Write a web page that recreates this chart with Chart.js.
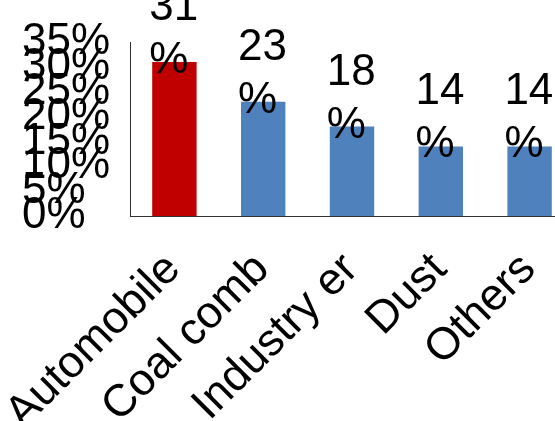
<!DOCTYPE html>
<html>
<head>
<meta charset="utf-8">
<script src="https://cdn.jsdelivr.net/npm/chart.js@4/dist/chart.umd.min.js"></script>
<style>
  html, body { margin: 0; padding: 0; background: #fff; overflow: hidden; }
  #wrap { position: relative; width: 574px; height: 421px; }
</style>
</head>
<body>
<div id="wrap"><canvas id="c"></canvas></div>
<script>
// Source categories and their shares (%)
const categories = ['Automobile', 'Coal comb', 'Industry er', 'Dust', 'Others'];
const shares = [31, 23, 18, 14, 14];
const barColors = ['#C00000', '#4F81BD', '#4F81BD', '#4F81BD', '#4F81BD'];
const yTicks = { min: 0, max: 35, step: 5 };

const FONT = '"Liberation Sans", Arial, sans-serif';

// Two-line value labels ("23" over "%") anchored at each bar's top-left
const valueLabels = {
  id: 'valueLabels',
  afterDatasetsDraw(chart) {
    const ctx = chart.ctx;
    const meta = chart.getDatasetMeta(0);
    ctx.save();
    ctx.font = '44px ' + FONT;
    ctx.fillStyle = '#000';
    ctx.textAlign = 'left';
    ctx.textBaseline = 'alphabetic';
    meta.data.forEach((bar, i) => {
      const left = bar.x - bar.width / 2 - 3;
      const pctBase = bar.y + 11;
      ctx.fillText(String(shares[i]), left, pctBase - 53);
      ctx.fillText('%', left, pctBase);
    });
    ctx.restore();
  }
};

new Chart(document.getElementById('c'), {
  type: 'bar',
  data: {
    labels: categories,
    datasets: [{
      data: shares,
      backgroundColor: barColors,
      borderWidth: 0,
      categoryPercentage: 1.0,
      barPercentage: 0.5
    }]
  },
  options: {
    responsive: true,
    maintainAspectRatio: false,
    animation: false,
    layout: { padding: { left: 22, top: 42, right: 0, bottom: 0 } },
    plugins: { legend: { display: false }, tooltip: { enabled: false } },
    scales: {
      x: {
        grid: { display: false, drawTicks: false },
        border: { display: true, color: '#303030', width: 1 },
        ticks: {
          font: { family: FONT, size: 45 },
          color: '#000',
          autoSkip: false,
          minRotation: 45,
          maxRotation: 45,
          padding: 27,
          labelOffset: -1
        },
        afterFit(s) { s.height = 205; s.paddingLeft = 0; s.paddingRight = 0; }
      },
      y: {
        min: yTicks.min,
        max: yTicks.max,
        grid: { display: false, drawTicks: false },
        border: { display: true, color: '#303030', width: 1 },
        ticks: {
          stepSize: yTicks.step,
          autoSkip: false,
          crossAlign: 'far',
          font: { family: FONT, size: 44 },
          color: '#000',
          callback: v => v + '%'
        },
        afterFit(s) { s.width = 108; s.paddingTop = 0; s.paddingBottom = 0; }
      }
    }
  },
  plugins: [valueLabels]
});
</script>
</body>
</html>
